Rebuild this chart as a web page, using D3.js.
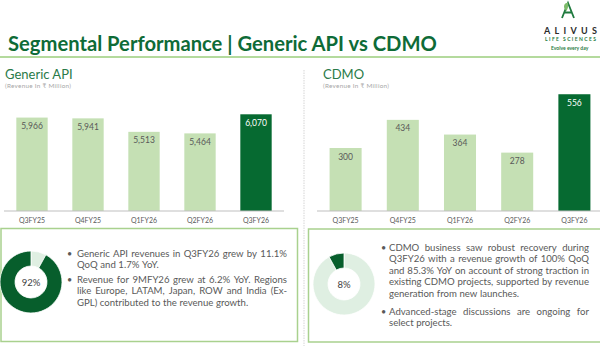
<!DOCTYPE html>
<html>
<head>
<meta charset="utf-8">
<script src="https://cdn.jsdelivr.net/npm/d3@7"></script>
<style>
  body { margin: 0; background: #fff; }
  svg { font-family: Lato, "Open Sans", sans-serif; display: block; }
</style>
</head>
<body>
<div id="chart"></div>
<script>
var quarters = ["Q3FY25", "Q4FY25", "Q1FY26", "Q2FY26", "Q3FY26"];
var apiValues = [5966, 5941, 5513, 5464, 6070];
var cdmoValues = [300, 434, 364, 278, 556];
var apiShare = [8, 92];   // light, dark
var cdmoShare = [92, 8];  // light, dark

var apiNotes = [
  ["Generic API revenues in Q3FY26 grew by 11.1%", "QoQ and 1.7% YoY."],
  ["Revenue for 9MFY26 grew at 6.2% YoY. Regions", "like Europe, LATAM, Japan, ROW and India (Ex-", "GPL) contributed to the revenue growth."]
];
var cdmoNotes = [
  ["CDMO business saw robust recovery during", "Q3FY26 with a revenue growth of 100% QoQ", "and 85.3% YoY on account of strong traction in", "existing CDMO projects, supported by revenue", "generation from new launches."],
  ["Advanced-stage discussions are ongoing for", "select projects."]
];

var width = 600, height = 350;
var darkGreen = "#066a31", lightGreen = "#c5e0b4", textGray = "#595959";

var svg = d3.select("#chart").append("svg")
  .attr("width", width)
  .attr("height", height);

// header
svg.append("text")
  .attr("x", 8).attr("y", 51)
  .attr("font-size", 20.2).attr("font-weight", 700)
  .attr("fill", "#0e6b37")
  .text("Segmental Performance | Generic API vs CDMO");

svg.append("line")
  .attr("x1", 0).attr("x2", width).attr("y1", 57).attr("y2", 57)
  .attr("stroke", "#b4da9d").attr("stroke-width", 2);

// logo
var logo = svg.append("g");
logo.append("path")
  .attr("d", "M562,18 L568,3 L574,18 M564.8,12.5 L571.2,12.5")
  .attr("fill", "none").attr("stroke", "#1f7a3e").attr("stroke-width", 1.8);
logo.append("path")
  .attr("d", "M566.5,11 C562.5,8 563.5,3 568,2.5 C568.5,6 568,8.5 566.5,11 Z")
  .attr("fill", "#7dbb6a");
logo.append("text")
  .attr("x", 544).attr("y", 34)
  .attr("font-size", 9).attr("font-weight", 700)
  .attr("textLength", 53).attr("lengthAdjust", "spacing")
  .attr("fill", "#2b2b2b").text("ALIVUS");
logo.append("text")
  .attr("x", 545).attr("y", 41)
  .attr("font-size", 5).attr("font-weight", 700)
  .attr("textLength", 51).attr("lengthAdjust", "spacing")
  .attr("fill", "#1f7a3e").text("LIFE SCIENCES");
logo.append("text")
  .attr("x", 551).attr("y", 50)
  .attr("font-size", 5).attr("font-weight", 700)
  .attr("fill", "#1f7a3e").text("Evolve every day");

// separator
svg.append("line")
  .attr("x1", 304).attr("x2", 304).attr("y1", 70).attr("y2", 346)
  .attr("stroke", "#e3e3e3").attr("stroke-width", 1.5)
  .attr("stroke-dasharray", "1.5,1");

function barChart(title, values, yDomain, xRange, titleX, fmt) {
  var g = svg.append("g");

  g.append("text")
    .attr("x", titleX).attr("y", 79)
    .attr("font-size", 13).attr("fill", "#2a7a48")
    .text(title);
  g.append("text")
    .attr("x", titleX).attr("y", 88)
    .attr("font-size", 6.3).attr("fill", "#a6a6a6").attr("letter-spacing", 0.3)
    .text("(Revenue In ₹ Million)");

  var x = d3.scaleBand()
    .domain(quarters)
    .range(xRange)
    .paddingInner(0.44)
    .paddingOuter(0.22);

  var y = d3.scaleLinear()
    .domain(yDomain)
    .range([211, 85]);

  g.selectAll("rect.bar").data(values)
    .enter().append("rect")
    .attr("class", "bar")
    .attr("x", function(d, i) { return x(quarters[i]); })
    .attr("y", function(d) { return y(d); })
    .attr("width", x.bandwidth())
    .attr("height", function(d) { return y(yDomain[0]) - y(d); })
    .attr("fill", function(d, i) { return i === values.length - 1 ? darkGreen : lightGreen; });

  g.selectAll("text.val").data(values)
    .enter().append("text")
    .attr("class", "val")
    .attr("x", function(d, i) { return x(quarters[i]) + x.bandwidth() / 2; })
    .attr("y", function(d) { return y(d) + 11.5; })
    .attr("text-anchor", "middle")
    .attr("font-size", 8.5)
    .attr("fill", function(d, i) { return i === values.length - 1 ? "#fff" : textGray; })
    .text(function(d) { return fmt(d); });

  var axis = g.append("g")
    .attr("transform", "translate(0,211)")
    .call(d3.axisBottom(x).tickSize(0).tickPadding(7.5));
  axis.select(".domain").remove();
  axis.selectAll("text")
    .attr("font-family", "Lato, sans-serif")
    .attr("font-size", 7).attr("fill", textGray);

  g.append("line")
    .attr("x1", xRange[0]).attr("x2", Math.min(xRange[1], 600))
    .attr("y1", 211).attr("y2", 211)
    .attr("stroke", "#bfbfbf").attr("stroke-width", 1);
}

barChart("Generic API", apiValues, [3000, 7000], [4, 284], 5, d3.format(","));
barChart("CDMO", cdmoValues, [0, 600], [317, 603], 323, d3.format(","));

// bottom boxes
svg.append("rect")
  .attr("x", 1).attr("y", 228.5).attr("width", 296.5).attr("height", 113)
  .attr("fill", "none").attr("stroke", "#a9d18e").attr("stroke-width", 1.5);
svg.append("rect")
  .attr("x", 308.5).attr("y", 229).attr("width", 300).attr("height", 113)
  .attr("fill", "none").attr("stroke", "#a9d18e").attr("stroke-width", 1.5);

function donut(cx, cy, shares, darkIndex, label) {
  var pie = d3.pie().sort(null).value(function(d) { return d; });
  var arc = d3.arc().innerRadius(16).outerRadius(31);
  var g = svg.append("g").attr("transform", "translate(" + cx + "," + cy + ")");
  g.selectAll("path").data(pie(shares))
    .enter().append("path")
    .attr("d", arc)
    .attr("fill", function(d, i) { return i === darkIndex ? "#075e2c" : "#dfefe2"; })
    .attr("stroke", "#fff").attr("stroke-width", 0.8);
  g.append("text")
    .attr("y", 3.5)
    .attr("text-anchor", "middle")
    .attr("font-size", 9.5).attr("fill", "#404040")
    .text(label);
}

donut(31, 282, apiShare, 1, "92%");
donut(344, 284, cdmoShare, 1, "8%");

// justified bullet text
function notes(paras, bulletX, textX, rightX, startY, lineH, paraGap) {
  var g = svg.append("g")
    .attr("font-size", 9.6).attr("fill", textGray);
  var yy = startY;
  paras.forEach(function(lines) {
    g.append("text")
      .attr("x", bulletX).attr("y", yy)
      .attr("font-size", 9).text("•");
    lines.forEach(function(line, li) {
      var words = line.split(" ");
      var last = li === lines.length - 1;
      var nodes = words.map(function(w) {
        return g.append("text").attr("y", yy).text(w);
      });
      var widths = nodes.map(function(n) { return n.node().getComputedTextLength(); });
      var total = d3.sum(widths);
      var space = last ? 2.6 : (rightX - textX - total) / Math.max(1, words.length - 1);
      var cx = textX;
      nodes.forEach(function(n, i) {
        n.attr("x", cx);
        cx += widths[i] + space;
      });
      yy += lineH;
    });
    yy += paraGap;
  });
}

notes(apiNotes, 67, 77, 287, 257, 11.2, 3.8);
notes(cdmoNotes, 381, 389, 589, 251, 11.4, 6.8);
</script>
</body>
</html>
